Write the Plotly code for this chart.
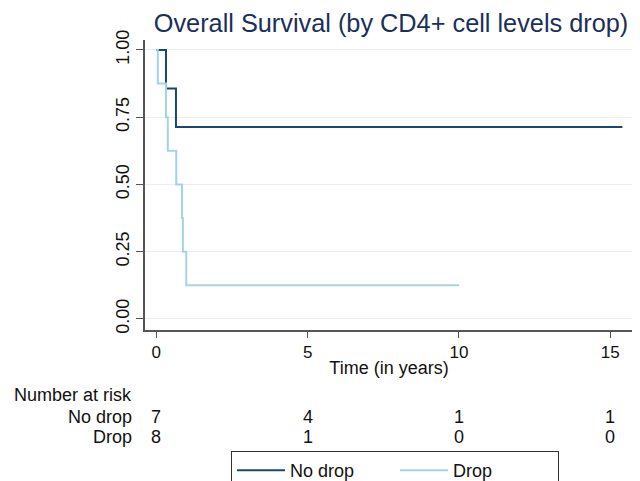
import plotly.graph_objects as go

# Kaplan-Meier step data
nodrop_time = [0, 0.32, 0.65, 15.4]
nodrop_surv = [1.0, 0.857, 0.714, 0.714]
drop_time = [0, 0.05, 0.32, 0.38, 0.66, 0.85, 0.88, 0.99, 10.0]
drop_surv = [1.0, 0.875, 0.75, 0.625, 0.5, 0.375, 0.25, 0.125, 0.125]

x_ticks = [0, 5, 10, 15]
y_ticks = [0, 0.25, 0.5, 0.75, 1.0]
y_ticklabels = ["0.00", "0.25", "0.50", "0.75", "1.00"]

risk_times = [0, 5, 10, 15]
risk_nodrop = [7, 4, 1, 1]
risk_drop = [8, 1, 0, 0]

NAVY = "#1a476f"
LTBLUE = "#a4d3e3"
FONT = "Liberation Sans, Arial, sans-serif"

OFF = 8  # page body margin
W, H = 640 - OFF, 481 - OFF
# plot area in screenshot pixels
L, R, T, B = 145, 633, 40, 330

fig = go.Figure()
fig.add_trace(go.Scatter(x=nodrop_time, y=nodrop_surv, mode="lines", name="No drop",
                         line=dict(color=NAVY, width=2, shape="hv")))
fig.add_trace(go.Scatter(x=drop_time, y=drop_surv, mode="lines", name="Drop",
                         line=dict(color=LTBLUE, width=2, shape="hv")))


def paper_x(px):
    return (px - L) / (R - L)


def paper_y(py):
    return (B - py) / (B - T)


ann = []
ann.append(dict(text="Number at risk", x=paper_x(134), xanchor="right", xref="paper",
                y=paper_y(395), yref="paper", yanchor="middle", showarrow=False))
ann.append(dict(text="No drop", x=paper_x(134), xanchor="right", xref="paper",
                y=paper_y(417), yref="paper", yanchor="middle", showarrow=False))
ann.append(dict(text="Drop", x=paper_x(134), xanchor="right", xref="paper",
                y=paper_y(437), yref="paper", yanchor="middle", showarrow=False))
for t, a, b in zip(risk_times, risk_nodrop, risk_drop):
    ann.append(dict(text=str(a), x=t, xref="x", y=paper_y(417), yref="paper",
                    yanchor="middle", showarrow=False))
    ann.append(dict(text=str(b), x=t, xref="x", y=paper_y(437), yref="paper",
                    yanchor="middle", showarrow=False))

fig.update_layout(
    width=W, height=H,
    margin=dict(l=L - OFF, r=640 - R, t=T - OFF, b=481 - B, autoexpand=False),
    paper_bgcolor="white", plot_bgcolor="white",
    font=dict(family=FONT, size=18, color="#111111"),
    title=dict(text="Overall Survival (by CD4+ cell levels drop)",
               x=((L + R) / 2 + 2 - OFF) / W, xanchor="center",
               y=1 - (23 - OFF) / H, yanchor="middle", yref="container",
               font=dict(family=FONT, size=25.3, color="#1b2f5b")),
    xaxis=dict(range=[-0.373, 15.75], tickvals=x_ticks, showgrid=False, zeroline=False,
               showline=True, linecolor="#555555", linewidth=1.5,
               ticks="outside", ticklen=6, tickcolor="#555555", tickwidth=1.2,
               tickfont=dict(size=17), automargin=False,
               title=dict(text="Time (in years)", standoff=0, font=dict(size=18))),
    yaxis=dict(range=[-0.041, 1.037], tickvals=y_ticks, ticktext=y_ticklabels,
               tickangle=-90, showgrid=True, gridcolor="#e8eff3", gridwidth=1,
               zeroline=False, showline=True, linecolor="#555555", linewidth=1.5,
               ticks="outside", ticklen=7, tickcolor="#555555", tickwidth=1.2,
               tickfont=dict(size=18), automargin=False),
    legend=dict(orientation="h", x=paper_x(395), xanchor="center", y=paper_y(451),
                yanchor="top", bordercolor="#333333", borderwidth=1,
                itemwidth=48, entrywidth=100, font=dict(size=18)),
    annotations=ann,
    showlegend=True,
)

fig.write_html("out.html")
